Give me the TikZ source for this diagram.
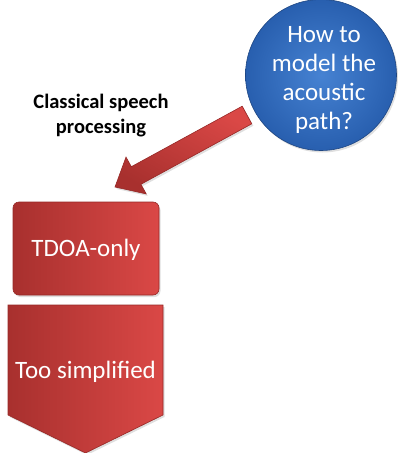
\documentclass[tikz,border=0pt]{standalone}
\usepackage{fontspec}
\setmainfont{Carlito}
\usetikzlibrary{shadows}
\definecolor{redL}{RGB}{168,48,46}
\definecolor{redR}{RGB}{218,72,70}
\definecolor{redE}{RGB}{150,40,38}
\definecolor{blueC}{RGB}{70,130,210}
\definecolor{blueD}{RGB}{40,95,175}
\definecolor{blueE}{RGB}{30,70,130}
\tikzset{
  redfill/.style={left color=redL, right color=redR, draw=redE, line width=0.6pt},
  whitetext/.style={text=white, font=\fontsize{25}{29}\selectfont, align=center},
  shad/.style={drop shadow={opacity=0.25, shadow xshift=1.5pt, shadow yshift=-2pt}}
}
\begin{document}
\begin{tikzpicture}[x=1pt,y=-1pt]
\useasboundingbox (0,0) rectangle (400,453);
% block arrow
\coordinate (tip) at (115,187);
\path[redfill, shad, shading angle=150]
  (251.8,123.8) -- (140.9,184.3) -- (146.2,193.9) -- (tip) -- (126.0,157.1) -- (131.3,166.7) -- (242.2,106.2) -- cycle;
% circle
\node[circle, minimum size=151pt, inner sep=0pt, shad, draw=blueE, line width=0.6pt,
      inner color=blueC, outer color=blueD] (q) at (321,75) {};
\node[text=white, font=\fontsize{25}{29}\selectfont, align=center] (qt) at (324,80)
  {How to\\model the\\acoustic\\path?};
% label
\node[font=\bfseries\fontsize{20.5}{25}\selectfont, align=center] (lab) at (101,115.5)
  {Classical speech\\processing};
% TDOA box
\path[redfill, shad, rounded corners=6pt] (13,202) rectangle (159,295);
\node[whitetext] (tdoa) at (86,250) {TDOA-only};
% pentagon
\path[redfill, shad] (8,305) -- (163,305) -- (163,415) -- (85.5,453) -- (8,415) -- cycle;
\node[whitetext] (too) at (85.5,372) {Too simplified};
\end{tikzpicture}
\end{document}
